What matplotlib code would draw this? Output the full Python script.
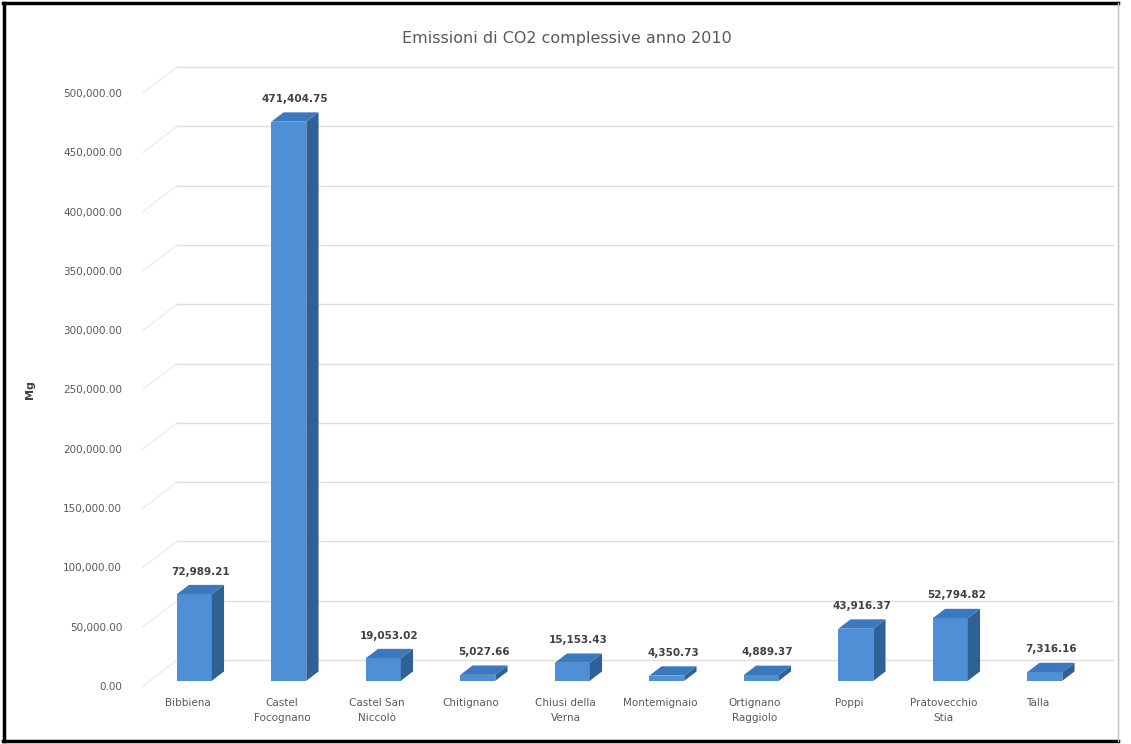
import matplotlib
matplotlib.use("Agg")
import matplotlib.pyplot as plt
from matplotlib.patches import Polygon
from matplotlib.lines import Line2D
import numpy as np

# data
comuni = ["Bibbiena", "Castel\nFocognano", "Castel San\nNiccolò", "Chitignano",
          "Chiusi della\nVerna", "Montemignaio", "Ortignano\nRaggiolo", "Poppi",
          "Pratovecchio\nStia", "Talla"]
emissioni = [72989.21, 471404.75, 19053.02, 5027.66, 15153.43,
             4350.73, 4889.37, 43916.37, 52794.82, 7316.16]
y_ticks = [0, 50000, 100000, 150000, 200000, 250000, 300000, 350000, 400000, 450000, 500000]

W, H = 1131, 744
fig = plt.figure(figsize=(W / 100, H / 100), dpi=100)
ax = fig.add_axes([143 / W, (H - 686) / H, 936 / W, 593 / H])

XMIN, XMAX = -0.471, 9.434
YMAX = 500000
ax.set_xlim(XMIN, XMAX)
ax.set_ylim(0, YMAX)

# fake 3D: depth offset of the back wall, in data units
px_x = 936 / (XMAX - XMIN)
px_y = 593 / YMAX
DX = 34 / px_x
DY = 26 / px_y
z_front, z_back = 0.2, 0.56
bar_w = 35 / px_x

for yv in y_ticks:
    ax.add_line(Line2D([XMIN + DX, XMAX + DX], [yv + DY, yv + DY],
                       color="#dedede", lw=1, zorder=0, clip_on=False))
    ax.add_line(Line2D([XMIN, XMIN + DX], [yv, yv + DY],
                       color="#ececec", lw=1, zorder=0, clip_on=False))

front_col = "#4f8fd6"
side_col = "#2f6196"
top_col = "#3b78bd"

x = np.arange(len(comuni))
for xi, v in zip(x, emissioni):
    x0 = xi - bar_w / 2 + DX * z_front
    x1 = x0 + bar_w
    y0 = DY * z_front
    y1 = v + DY * z_front
    ddx = DX * (z_back - z_front)
    ddy = DY * (z_back - z_front)
    ax.add_patch(Polygon([(x0, y0), (x1, y0), (x1, y1), (x0, y1)],
                         closed=True, facecolor=front_col, edgecolor="none",
                         zorder=3, clip_on=False))
    ax.add_patch(Polygon([(x1, y0), (x1 + ddx, y0 + ddy), (x1 + ddx, y1 + ddy), (x1, y1)],
                         closed=True, facecolor=side_col, edgecolor="none",
                         zorder=3, clip_on=False))
    ax.add_patch(Polygon([(x0, y1), (x1, y1), (x1 + ddx, y1 + ddy), (x0 + ddx, y1 + ddy)],
                         closed=True, facecolor=top_col, edgecolor="none",
                         zorder=3, clip_on=False))
    ax.annotate(f"{v:,.2f}", (xi + DX * (z_front + z_back) / 2, y1 + ddy),
                xytext=(0, 6), textcoords="offset points", ha="center", va="bottom",
                fontsize=7.5, fontweight="bold", color="#404040", zorder=5,
                annotation_clip=False)

ax.set_yticks(y_ticks)
ax.set_yticklabels([f"{t:,.2f}" for t in y_ticks], fontsize=7.5, color="#595959")
ax.set_xticks(x)
ax.set_xticklabels(comuni, fontsize=7.5, color="#595959", linespacing=1.6)
ax.tick_params(axis="y", length=0, pad=15)
ax.tick_params(axis="x", length=0, pad=9)
for s in ax.spines.values():
    s.set_visible(False)
ax.patch.set_alpha(0)

ax.set_ylabel("Mg", fontsize=8, fontweight="bold", color="#404040")
ax.yaxis.set_label_coords((35 - 143) / 936, 0.5)

fig.text(567 / W, 1 - 38 / H, "Emissioni di CO2 complessive anno 2010",
         ha="center", va="center", fontsize=11.5, color="#595959")

# chart frame
fig.add_artist(Line2D([4 / W, 4 / W], [3 / H, 1 - 3 / H], color="black", lw=2.5,
                      transform=fig.transFigure))
fig.add_artist(Line2D([3 / W, 1118 / W], [1 - 3 / H, 1 - 3 / H], color="black", lw=2.5,
                      transform=fig.transFigure))
fig.add_artist(Line2D([3 / W, 1118 / W], [3 / H, 3 / H], color="black", lw=2.5,
                      transform=fig.transFigure))
fig.add_artist(Line2D([1118 / W, 1118 / W], [3 / H, 1 - 3 / H], color="#bfbfbf", lw=1,
                      transform=fig.transFigure))

fig.savefig("out.png", dpi=100)
